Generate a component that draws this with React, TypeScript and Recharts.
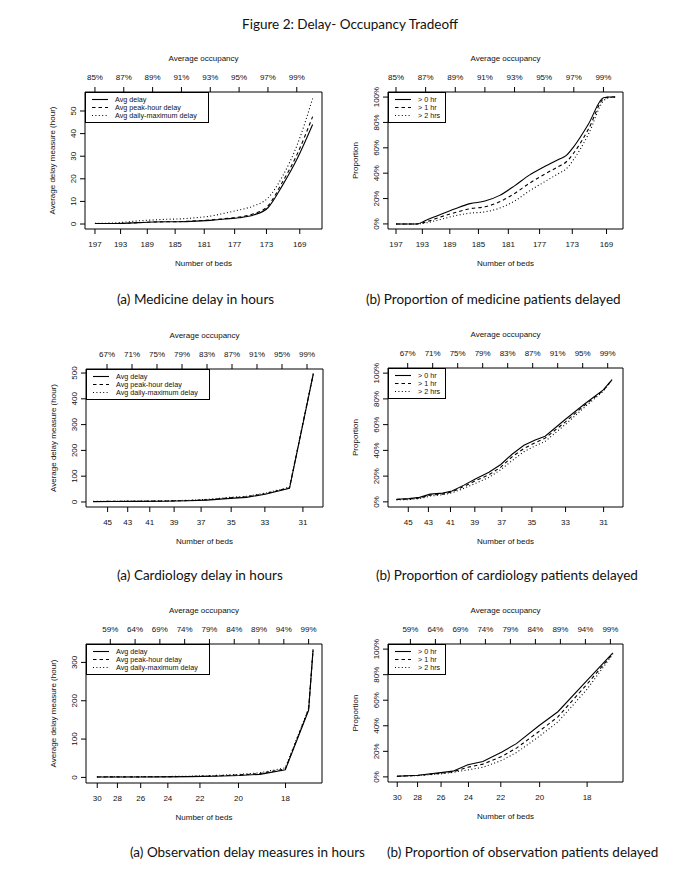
import React from "react";
import { LineChart, Line, XAxis, YAxis, ReferenceArea } from "recharts";

// ---------- Medicine ----------
const medOcc = [85, 86, 87, 88, 89, 90, 91, 92, 93, 94, 95, 96, 97, 98, 99, 100.1];
const medAvg = [0.2, 0.2, 0.3, 0.6, 0.9, 1.0, 1.0, 1.3, 1.6, 2.2, 2.8, 4.0, 7.2, 17, 28.5, 44];
const medPeak = [0.2, 0.2, 0.3, 0.6, 0.9, 1.0, 1.1, 1.4, 1.8, 2.4, 3.1, 4.5, 8.0, 18.5, 30.5, 47.5];
const medMax = [0.3, 0.4, 0.8, 1.4, 1.8, 2.1, 2.3, 2.8, 3.5, 4.8, 6.2, 8.0, 11.5, 21, 34.5, 55.5];

const medPropOcc = [85, 86, 86.4, 87, 88, 89, 90, 91, 92, 93, 94, 95, 96, 96.5, 97, 98, 99, 99.4, 99.8];
const medGt0 = [0, 0, 0, 2.7, 7.5, 12, 16, 18, 22.5, 30, 38.5, 45, 51, 54, 61, 79, 99.5, 100, 100];
const medGt1 = [0, 0, 0, 1.5, 5.5, 9, 12, 13.5, 17.5, 24, 32, 39, 45.5, 49, 56, 75, 98.5, 100, 100];
const medGt2 = [0, 0, 0, 0.8, 3.5, 6.5, 8.5, 9.5, 12.5, 18, 26, 33, 40, 43.5, 51, 71, 97, 99.5, 100];

const medOccTicks = [85, 87, 89, 91, 93, 95, 97, 99];
const medBedTicks = [197, 193, 189, 185, 181, 177, 173, 169];

// ---------- Cardiology ----------
const cardOcc = [64.8, 68, 72, 76, 80, 83, 86.7, 89.3, 92.3, 96.2, 100];
const cardAvg = [1.5, 2, 2.5, 3, 4.5, 7, 14, 18, 30, 53, 495];
const cardPeak = [1.8, 2.3, 2.8, 3.5, 5.5, 8.5, 16, 20, 32, 55, 497];
const cardMax = [2.2, 2.8, 3.5, 4.5, 6.5, 10, 18, 22, 34, 57, 499];

const cardPropOcc = [65.2, 67.2, 68.9, 70.6, 72.6, 74.1, 76, 77.9, 80, 81.9, 83.7, 85.6, 87.4, 89, 92.2, 95.3, 98.3, 99.7];
const cardGt0 = [2, 2.5, 3.5, 6, 6.8, 8.5, 13, 18, 23, 29, 37, 44, 48, 51, 64, 76, 87, 95];
const cardGt1 = [1.8, 2.2, 3, 5.2, 6, 7.8, 12, 16.5, 21, 27, 35, 41.5, 46, 49.5, 62, 75, 86.5, 95];
const cardGt2 = [1.5, 1.8, 2.5, 4.5, 5.5, 7, 10.5, 14.5, 19, 25, 32, 39, 43.5, 47, 60, 73.5, 86, 94.5];

const cardOccTicks = [67, 71, 75, 79, 83, 87, 91, 95, 99];
const cardBedTicks = [45, 43, 41, 39, 37, 35, 33, 31];

// ---------- Observation ----------
const obsOcc = [56.3, 60, 65, 70, 75, 80, 85, 89.2, 94.3, 99, 99.9];
const obsAvg = [1, 1, 1.2, 1.5, 2, 3, 5, 8, 20, 175, 333];
const obsPeak = [1.2, 1.3, 1.5, 1.8, 2.5, 3.8, 6.5, 10, 22, 178, 334];
const obsMax = [1.5, 1.6, 1.9, 2.3, 3.2, 5, 8, 12, 25, 180, 335];

const obsPropOcc = [56.3, 60.5, 65.5, 67.5, 70.5, 73.5, 77.3, 80.2, 84.7, 88.5, 94.2, 99.5];
const obsGt0 = [0.5, 1.3, 3.5, 4.5, 9.5, 12, 19.5, 26, 40, 51, 75, 97];
const obsGt1 = [0.5, 1.1, 3, 4, 7.5, 10, 16, 22.5, 35.5, 47, 72, 96.5];
const obsGt2 = [0.5, 1, 2.5, 3.5, 5.5, 7.5, 13, 19, 31.5, 43, 68, 96];

const obsOccTicks = [59, 64, 69, 74, 79, 84, 89, 94, 99];
const obsBedTicks = [30, 28, 26, 24, 22, 20, 18];

const delayTicksMed = [0, 10, 20, 30, 40, 50];
const delayTicksCard = [0, 100, 200, 300, 400, 500];
const delayTicksObs = [0, 100, 200, 300];
const propTicks = [0, 20, 40, 60, 80, 100];

const delayNames = ["Avg delay", "Avg peak-hour delay", "Avg daily-maximum delay"];
const propNames = ["> 0 hr", "> 1 hr", "> 2 hrs"];

// beds -> occupancy position on the shared x scale
const medBedOcc = (b: number) => -0.75 + 16893 / b;
const cardBedOcc = (b: number) => -2.1 + 3113.8 / b;
const obsBedOcc = (b: number) => -0.6 + 1709 / b;

const AX_FONT = '"Liberation Sans", Arial, sans-serif';
const DOC_FONT = 'Lato, "Open Sans", sans-serif';
const DASHES = [undefined, "3.5 3", "1 2.4"];

type PanelProps = {
  left: number;
  top: number;
  width: number;
  height: number;
  xDomain: [number, number];
  yDomain: [number, number];
  occTicks: number[];
  bedTicks: number[];
  bedOcc: (b: number) => number;
  yTicks: number[];
  pct?: boolean;
  yLabel: string;
  xs: number[];
  series: number[][];
  names: string[];
  legendWidth: number;
  curve: "monotone" | "linear";
};

const YW = 55;
const TOPH = 52;
const BOTH = 50;
const RM = 15;

function RotTick(props: any) {
  const { x, y, payload, pct } = props;
  return (
    <text
      x={x}
      y={y}
      transform={`rotate(-90, ${x}, ${y})`}
      textAnchor="middle"
      dy={-2}
      fontSize={8}
      fill="#111"
      fontFamily={AX_FONT}
    >
      {pct ? `${payload.value}%` : payload.value}
    </text>
  );
}

function Panel(p: PanelProps) {
  const rows = p.xs.map((x, i) => {
    const r: any = { x };
    p.series.forEach((s, k) => (r[`s${k}`] = s[i]));
    return r;
  });
  const bedPos = p.bedTicks.map(p.bedOcc);
  const tickStyle = { fontSize: 8, fill: "#111", fontFamily: AX_FONT };
  const labelStyle = { fontSize: 8, fill: "#111", fontFamily: AX_FONT, textAnchor: "middle" as const };
  return (
    <div style={{ position: "absolute", left: p.left - YW, top: p.top - TOPH }}>
      <LineChart
        width={YW + p.width + RM}
        height={TOPH + p.height + BOTH}
        data={rows}
        margin={{ top: 0, right: RM, bottom: 0, left: 0 }}
      >
        <XAxis
          xAxisId="b"
          type="number"
          dataKey="x"
          domain={p.xDomain}
          allowDataOverflow
          ticks={bedPos}
          interval={0}
          tickFormatter={(v: number) => {
            const i = bedPos.findIndex((o) => Math.abs(o - v) < 1e-6);
            return i >= 0 ? String(p.bedTicks[i]) : "";
          }}
          height={BOTH}
          tickSize={5}
          tickMargin={7}
          axisLine={false}
          tickLine={{ stroke: "#000" }}
          tick={tickStyle}
          label={{ value: "Number of beds", position: "insideBottom", offset: 13, style: labelStyle }}
        />
        <XAxis
          xAxisId="t"
          orientation="top"
          type="number"
          dataKey="x"
          domain={p.xDomain}
          allowDataOverflow
          ticks={p.occTicks}
          interval={0}
          tickFormatter={(v: number) => `${v}%`}
          height={TOPH}
          tickSize={5}
          tickMargin={7}
          axisLine={false}
          tickLine={{ stroke: "#000" }}
          tick={tickStyle}
          label={{ value: "Average occupancy", position: "insideTop", offset: 15, style: labelStyle }}
        />
        <YAxis
          yAxisId="l"
          type="number"
          domain={p.yDomain}
          allowDataOverflow
          ticks={p.yTicks}
          interval={0}
          width={YW}
          tickSize={5}
          tickMargin={2}
          axisLine={false}
          tickLine={{ stroke: "#000" }}
          tick={(tp: any) => <RotTick {...tp} pct={p.pct} />}
          label={{
            value: p.yLabel,
            angle: -90,
            position: "insideLeft",
            offset: 22,
            style: labelStyle,
          }}
        />
        <ReferenceArea
          xAxisId="b"
          yAxisId="l"
          x1={p.xDomain[0]}
          x2={p.xDomain[1]}
          y1={p.yDomain[0]}
          y2={p.yDomain[1]}
          fill="none"
          fillOpacity={0}
          stroke="#000"
          strokeWidth={1}
          ifOverflow="visible"
        />
        {p.series.map((_, k) => (
          <Line
            key={k}
            xAxisId="b"
            yAxisId="l"
            type={p.curve}
            dataKey={`s${k}`}
            stroke="#000"
            strokeWidth={1.1}
            strokeDasharray={DASHES[k]}
            dot={false}
            activeDot={false}
            isAnimationActive={false}
          />
        ))}
      </LineChart>
      <svg
        width={p.legendWidth + 1}
        height={31}
        style={{ position: "absolute", left: YW, top: TOPH }}
      >
        <rect x={0.5} y={0.5} width={p.legendWidth} height={30} fill="#fff" stroke="#000" strokeWidth={1} />
        {p.names.map((n, k) => (
          <g key={n}>
            <line
              x1={7}
              x2={23}
              y1={7.5 + k * 8}
              y2={7.5 + k * 8}
              stroke="#000"
              strokeWidth={1.1}
              strokeDasharray={DASHES[k]}
            />
            <text x={30} y={7.5 + k * 8 + 2.6} fontSize={7.2} fill="#111" fontFamily={AX_FONT}>
              {n}
            </text>
          </g>
        ))}
      </svg>
    </div>
  );
}

function Caption({ x, y, children }: { x: number; y: number; children: React.ReactNode }) {
  return (
    <div
      style={{
        position: "absolute",
        left: x,
        top: y,
        fontFamily: DOC_FONT,
        fontSize: 13.5,
        color: "#111",
        whiteSpace: "nowrap",
        lineHeight: "16px",
      }}
    >
      {children}
    </div>
  );
}

export default function App() {
  return (
    <div
      style={{
        position: "absolute",
        left: 0,
        top: 0,
        width: 700,
        height: 882,
        background: "#fff",
        overflow: "hidden",
      }}
    >
      <div
        style={{
          position: "absolute",
          top: 16,
          left: 0,
          width: 700,
          textAlign: "center",
          fontFamily: DOC_FONT,
          fontSize: 13.5,
          color: "#111",
          lineHeight: "16px",
        }}
      >
        Figure 2: Delay- Occupancy Tradeoff
      </div>

      {/* row 1: medicine */}
      <Panel
        left={85}
        top={92}
        width={237}
        height={137}
        xDomain={[84.31, 100.75]}
        yDomain={[-2.2, 58.4]}
        occTicks={medOccTicks}
        bedTicks={medBedTicks}
        bedOcc={medBedOcc}
        yTicks={delayTicksMed}
        yLabel="Average delay measure (hour)"
        xs={medOcc}
        series={[medAvg, medPeak, medMax]}
        names={delayNames}
        legendWidth={123}
        curve="monotone"
      />
      <Panel
        left={388}
        top={92}
        width={235}
        height={137}
        xDomain={[84.46, 100.32]}
        yDomain={[-4, 104]}
        occTicks={medOccTicks}
        bedTicks={medBedTicks}
        bedOcc={medBedOcc}
        yTicks={propTicks}
        pct
        yLabel="Proportion"
        xs={medPropOcc}
        series={[medGt0, medGt1, medGt2]}
        names={propNames}
        legendWidth={57}
        curve="monotone"
      />
      <Caption x={117} y={291}>(a) Medicine delay in hours</Caption>
      <Caption x={366} y={291}>(b) Proportion of medicine patients delayed</Caption>

      {/* row 2: cardiology */}
      <Panel
        left={86}
        top={369}
        width={237}
        height={138}
        xDomain={[63.64, 101.56]}
        yDomain={[-19.5, 515.6]}
        occTicks={cardOccTicks}
        bedTicks={cardBedTicks}
        bedOcc={cardBedOcc}
        yTicks={delayTicksCard}
        yLabel="Average delay measure (hour)"
        xs={cardOcc}
        series={[cardAvg, cardPeak, cardMax]}
        names={delayNames}
        legendWidth={123}
        curve="linear"
      />
      <Panel
        left={388}
        top={368}
        width={235}
        height={139}
        xDomain={[63.85, 101.45]}
        yDomain={[-4, 104]}
        occTicks={cardOccTicks}
        bedTicks={cardBedTicks}
        bedOcc={cardBedOcc}
        yTicks={propTicks}
        pct
        yLabel="Proportion"
        xs={cardPropOcc}
        series={[cardGt0, cardGt1, cardGt2]}
        names={propNames}
        legendWidth={57}
        curve="linear"
      />
      <Caption x={117} y={567}>(a) Cardiology delay in hours</Caption>
      <Caption x={376} y={567}>(b) Proportion of cardiology patients delayed</Caption>

      {/* row 3: observation */}
      <Panel
        left={86}
        top={644}
        width={236}
        height={139}
        xDomain={[54.1, 101.7]}
        yDomain={[-14.6, 348]}
        occTicks={obsOccTicks}
        bedTicks={obsBedTicks}
        bedOcc={obsBedOcc}
        yTicks={delayTicksObs}
        yLabel="Average delay measure (hour)"
        xs={obsOcc}
        series={[obsAvg, obsPeak, obsMax]}
        names={delayNames}
        legendWidth={123}
        curve="linear"
      />
      <Panel
        left={388}
        top={644}
        width={235}
        height={138}
        xDomain={[54.52, 101.52]}
        yDomain={[-4, 104]}
        occTicks={obsOccTicks}
        bedTicks={obsBedTicks}
        bedOcc={obsBedOcc}
        yTicks={propTicks}
        pct
        yLabel="Proportion"
        xs={obsPropOcc}
        series={[obsGt0, obsGt1, obsGt2]}
        names={propNames}
        legendWidth={57}
        curve="linear"
      />
      <Caption x={130} y={844}>(a) Observation delay measures in hours</Caption>
      <Caption x={387} y={844}>(b) Proportion of observation patients delayed</Caption>
    </div>
  );
}
